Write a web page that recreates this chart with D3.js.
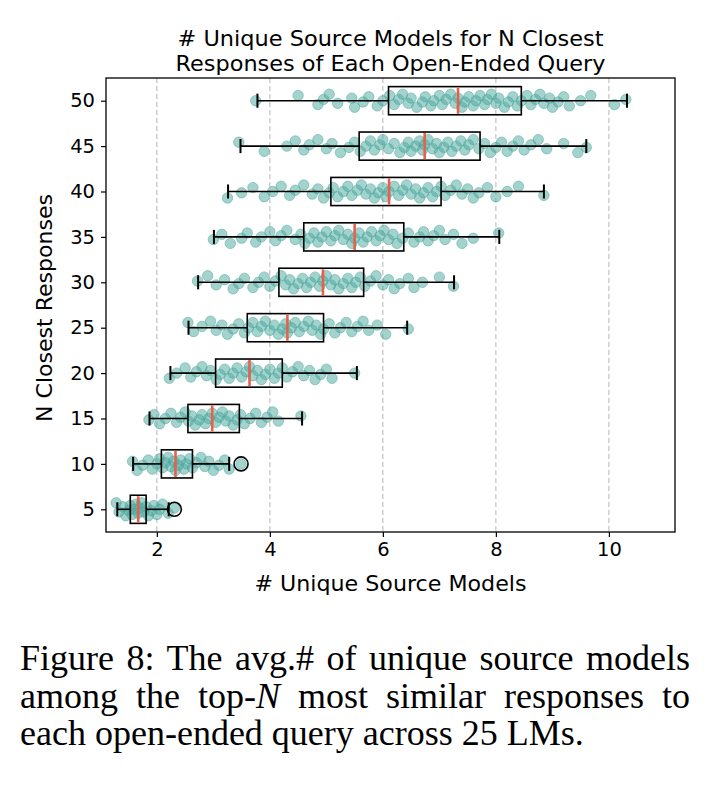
<!DOCTYPE html>
<html>
<head>
<meta charset="utf-8">
<script src="https://cdn.jsdelivr.net/npm/d3@7"></script>
<style>
  html, body { margin: 0; padding: 0; background: #fff; }
  svg { display: block; }
</style>
</head>
<body>
<div id="chart"></div>
<script>
// N closest responses (y categories, bottom to top)
const N_VALUES = [5, 10, 15, 20, 25, 30, 35, 40, 45, 50];

// box stats
const WHISKER_LO = [1.30, 1.58, 1.87, 2.24, 2.56, 2.73, 3.01, 3.26, 3.48, 3.78];
const Q1         = [1.53, 2.08, 2.55, 3.04, 3.60, 4.16, 4.60, 5.08, 5.58, 6.10];
const MEDIAN     = [1.67, 2.33, 2.98, 3.64, 4.31, 4.94, 5.50, 6.11, 6.74, 7.33];
const Q3         = [1.81, 2.63, 3.46, 4.22, 4.95, 5.66, 6.37, 7.03, 7.72, 8.45];
const WHISKER_HI = [2.21, 3.28, 4.57, 5.54, 6.43, 7.26, 8.06, 8.85, 9.60, 10.32];
const OUTLIERS   = [[2.31], [3.49], [], [], [], [], [], [], [], []];

// per-query values (scatter)
const POINTS = [
  [1.28, 1.33, 1.4, 1.45, 1.5, 1.53, 1.56, 1.6, 1.63, 1.67, 1.7, 1.73, 1.77, 1.81, 1.85, 1.9, 1.95, 2.0, 2.05, 2.1, 2.2, 2.31],
  [1.57, 1.65, 1.75, 1.85, 1.92, 2.0, 2.05, 2.1, 2.15, 2.2, 2.25, 2.3, 2.33, 2.38, 2.42, 2.48, 2.52, 2.58, 2.63, 2.7, 2.78, 2.85, 2.92, 3.0, 3.1, 3.2, 3.28, 3.49],
  [1.86, 1.95, 2.05, 2.15, 2.25, 2.35, 2.42, 2.5, 2.56, 2.62, 2.68, 2.75, 2.8, 2.86, 2.92, 2.98, 3.04, 3.1, 3.16, 3.22, 3.28, 3.35, 3.42, 3.48, 3.55, 3.65, 3.75, 3.85, 3.95, 4.05, 4.15, 4.55],
  [2.22, 2.35, 2.5, 2.6, 2.7, 2.8, 2.88, 2.95, 3.05, 3.12, 3.2, 3.28, 3.35, 3.42, 3.5, 3.58, 3.64, 3.7, 3.78, 3.85, 3.92, 4.0, 4.08, 4.15, 4.22, 4.3, 4.4, 4.5, 4.6, 4.7, 4.8, 4.9, 5.0, 5.1, 5.5],
  [2.55, 2.65, 2.8, 2.95, 3.05, 3.15, 3.25, 3.35, 3.45, 3.55, 3.62, 3.7, 3.78, 3.85, 3.92, 4.0, 4.08, 4.15, 4.22, 4.28, 4.31, 4.38, 4.45, 4.52, 4.6, 4.68, 4.75, 4.82, 4.9, 4.95, 5.05, 5.15, 5.25, 5.35, 5.45, 5.55, 5.65, 5.75, 5.9, 6.05, 6.45],
  [2.72, 2.9, 3.05, 3.2, 3.35, 3.45, 3.55, 3.7, 3.8, 3.9, 4.0, 4.1, 4.2, 4.28, 4.35, 4.42, 4.5, 4.58, 4.65, 4.72, 4.8, 4.88, 4.94, 5.0, 5.08, 5.15, 5.22, 5.3, 5.38, 5.45, 5.52, 5.6, 5.68, 5.78, 5.88, 6.0, 6.1, 6.2, 6.3, 6.45, 6.55, 6.7, 7.0, 7.25],
  [3.0, 3.15, 3.3, 3.5, 3.6, 3.75, 3.85, 4.0, 4.1, 4.2, 4.3, 4.45, 4.55, 4.62, 4.7, 4.78, 4.85, 4.92, 5.0, 5.08, 5.15, 5.22, 5.3, 5.38, 5.45, 5.5, 5.58, 5.65, 5.72, 5.8, 5.88, 5.95, 6.02, 6.1, 6.18, 6.25, 6.35, 6.45, 6.55, 6.65, 6.72, 6.8, 6.9, 7.0, 7.1, 7.25, 7.4, 7.6, 8.05],
  [3.25, 3.5, 3.7, 3.9, 4.05, 4.2, 4.35, 4.45, 4.6, 4.75, 4.85, 4.95, 5.05, 5.12, 5.2, 5.3, 5.38, 5.45, 5.55, 5.62, 5.7, 5.78, 5.85, 5.92, 6.0, 6.05, 6.11, 6.2, 6.28, 6.35, 6.42, 6.5, 6.58, 6.65, 6.72, 6.8, 6.88, 6.95, 7.03, 7.1, 7.2, 7.3, 7.4, 7.5, 7.6, 7.7, 7.85, 8.0, 8.2, 8.4, 8.85],
  [3.45, 3.9, 4.3, 4.45, 4.6, 4.7, 4.85, 5.0, 5.1, 5.25, 5.4, 5.5, 5.6, 5.7, 5.78, 5.85, 5.95, 6.0, 6.1, 6.2, 6.3, 6.38, 6.45, 6.5, 6.58, 6.65, 6.7, 6.74, 6.8, 6.88, 6.95, 7.0, 7.08, 7.15, 7.22, 7.3, 7.38, 7.45, 7.52, 7.6, 7.7, 7.8, 7.9, 8.0, 8.1, 8.2, 8.3, 8.4, 8.5, 8.62, 8.75, 8.9, 9.2, 9.45, 9.6],
  [3.75, 4.5, 4.85, 4.95, 5.05, 5.2, 5.45, 5.5, 5.65, 5.75, 5.9, 6.0, 6.12, 6.2, 6.28, 6.35, 6.45, 6.5, 6.6, 6.7, 6.75, 6.85, 6.9, 7.0, 7.05, 7.12, 7.2, 7.28, 7.33, 7.4, 7.45, 7.52, 7.6, 7.65, 7.72, 7.8, 7.85, 7.92, 8.0, 8.05, 8.15, 8.22, 8.3, 8.38, 8.45, 8.55, 8.62, 8.7, 8.78, 8.85, 8.95, 9.0, 9.1, 9.2, 9.3, 9.5, 9.68, 10.1, 10.3]
];

const X_TICKS = [2, 4, 6, 8, 10];
const TITLE_LINES = ["# Unique Source Models for N Closest", "Responses of Each Open-Ended Query"];
const X_LABEL = "# Unique Source Models";
const Y_LABEL = "N Closest Responses";
// caption lines, as [text, italic?] pieces
const CAPTION = [
  [["Figure 8: The avg.# of unique source models", false]],
  [["among the top-", false], ["N", true], [" most similar responses to", false]],
  [["each open-ended query across 25 LMs.", false]]
];

const W = 716, H = 800;
const M = { t: 78, r: 41, b: 268, l: 106 };
const w = W - M.l - M.r, h = H - M.t - M.b;
const SANS = "'DejaVu Sans', sans-serif";
const SERIF = "'Liberation Serif', 'Times New Roman', serif";

const svg = d3.select("#chart").append("svg")
  .attr("width", W).attr("height", H)
  .attr("font-family", SANS);

const g = svg.append("g").attr("transform", `translate(${M.l},${M.t})`);

const x = d3.scaleLinear().domain([1.1, 11.17]).range([0, w]);
const y = d3.scaleLinear().domain([0.5, N_VALUES.length + 0.5]).range([h, 0]);
const yPos = i => y(i + 1);
const boxH = (y(0) - y(0.62));

// dashed vertical grid
g.append("g").selectAll("line")
  .data(X_TICKS)
  .join("line")
  .attr("x1", d => x(d)).attr("x2", d => x(d))
  .attr("y1", 0).attr("y2", h)
  .attr("stroke", "#b8b8b8")
  .attr("stroke-width", 1)
  .attr("stroke-dasharray", "5,3");

// jittered points (deterministic offsets by index)
const TEAL = "#4aa89d";
const rows = g.append("g").selectAll("g.row")
  .data(POINTS)
  .join("g").attr("class", "row");
rows.selectAll("circle")
  .data((d, i) => d.map((v, j) => ({ v, i, j })))
  .join("circle")
  .attr("cx", d => x(d.v))
  .attr("cy", d => yPos(d.i) + (((d.j * 7 + d.i * 3) % 11) / 10 - 0.5) * 13)
  .attr("r", 5.2)
  .attr("fill", TEAL)
  .attr("fill-opacity", 0.5)
  .attr("stroke", TEAL)
  .attr("stroke-opacity", 0.5)
  .attr("stroke-width", 1);

// boxes
const boxes = g.append("g").selectAll("g.box")
  .data(N_VALUES.map((n, i) => i))
  .join("g").attr("class", "box");

boxes.append("line") // lower whisker
  .attr("x1", i => x(WHISKER_LO[i])).attr("x2", i => x(Q1[i]))
  .attr("y1", yPos).attr("y2", yPos)
  .attr("stroke", "#000").attr("stroke-width", 1.6);
boxes.append("line") // upper whisker
  .attr("x1", i => x(Q3[i])).attr("x2", i => x(WHISKER_HI[i]))
  .attr("y1", yPos).attr("y2", yPos)
  .attr("stroke", "#000").attr("stroke-width", 1.6);
[WHISKER_LO, WHISKER_HI].forEach(arr => {
  boxes.append("line")
    .attr("x1", i => x(arr[i])).attr("x2", i => x(arr[i]))
    .attr("y1", i => yPos(i) - boxH / 4).attr("y2", i => yPos(i) + boxH / 4)
    .attr("stroke", "#000").attr("stroke-width", 2);
});
boxes.append("rect")
  .attr("x", i => x(Q1[i]))
  .attr("y", i => yPos(i) - boxH / 2)
  .attr("width", i => x(Q3[i]) - x(Q1[i]))
  .attr("height", boxH)
  .attr("fill", "none")
  .attr("stroke", "#000").attr("stroke-width", 1.6);
boxes.append("line") // median
  .attr("x1", i => x(MEDIAN[i])).attr("x2", i => x(MEDIAN[i]))
  .attr("y1", i => yPos(i) - boxH / 2 + 1).attr("y2", i => yPos(i) + boxH / 2 - 1)
  .attr("stroke", "#e8604a").attr("stroke-width", 2.6);
boxes.selectAll("circle.flier")
  .data(i => OUTLIERS[i].map(v => ({ v, i })))
  .join("circle").attr("class", "flier")
  .attr("cx", d => x(d.v)).attr("cy", d => yPos(d.i))
  .attr("r", 7)
  .attr("fill", "none")
  .attr("stroke", "#000").attr("stroke-width", 1.6);

// frame
g.append("rect")
  .attr("width", w).attr("height", h)
  .attr("fill", "none").attr("stroke", "#000").attr("stroke-width", 1.3);

// axes
const xAxis = g.append("g")
  .attr("transform", `translate(0,${h})`)
  .call(d3.axisBottom(x).tickValues(X_TICKS).tickSize(5).tickPadding(5).tickFormat(d3.format("d")));
xAxis.select(".domain").remove();

const yAxis = g.append("g")
  .call(d3.axisLeft(y).tickValues(N_VALUES.map((n, i) => i + 1))
    .tickFormat(d => N_VALUES[d - 1]).tickSize(5).tickPadding(6));
yAxis.select(".domain").remove();

[xAxis, yAxis].forEach(a => a.attr("font-family", SANS).attr("font-size", 19.5));
svg.selectAll(".tick text").attr("fill", "#000");
svg.selectAll(".tick line").attr("stroke", "#000").attr("stroke-width", 1.2);

// axis labels
svg.append("text")
  .attr("x", M.l + w / 2).attr("y", 591)
  .attr("text-anchor", "middle")
  .attr("textLength", 272).attr("lengthAdjust", "spacingAndGlyphs")
  .attr("font-size", 22)
  .text(X_LABEL);
svg.append("text")
  .attr("transform", `translate(52,${M.t + h / 2 + 3}) rotate(-90)`)
  .attr("text-anchor", "middle")
  .attr("textLength", 228).attr("lengthAdjust", "spacingAndGlyphs")
  .attr("font-size", 22)
  .text(Y_LABEL);

// title
svg.append("g").selectAll("text")
  .data(TITLE_LINES)
  .join("text")
  .attr("x", M.l + w / 2)
  .attr("y", (d, i) => 46 + i * 25)
  .attr("text-anchor", "middle")
  .attr("textLength", (d, i) => [426, 430][i]).attr("lengthAdjust", "spacingAndGlyphs")
  .attr("font-size", 21.5)
  .text(d => d);

// caption: justified lines 1-2 via word-spacing, last line left
const CAP_X = 20, CAP_W = 670, CAP_Y0 = 670, CAP_DY = 37.5;
const capLines = svg.append("g")
  .selectAll("text")
  .data(CAPTION)
  .join("text")
  .attr("x", CAP_X)
  .attr("y", (d, i) => CAP_Y0 + i * CAP_DY)
  .attr("font-family", SERIF)
  .attr("font-size", 36)
  .attr("fill", "#000");
capLines.selectAll("tspan")
  .data(d => d)
  .join("tspan")
  .attr("font-style", d => d[1] ? "italic" : "normal")
  .text(d => d[0]);
capLines.each(function (d, i) {
  if (i === CAPTION.length - 1) return;
  const natural = this.getComputedTextLength();
  const spaces = d.map(p => p[0]).join("").split(" ").length - 1;
  if (natural < CAP_W) d3.select(this).attr("word-spacing", (CAP_W - natural) / spaces);
  else d3.select(this).attr("textLength", CAP_W).attr("lengthAdjust", "spacingAndGlyphs");
});
</script>
</body>
</html>
